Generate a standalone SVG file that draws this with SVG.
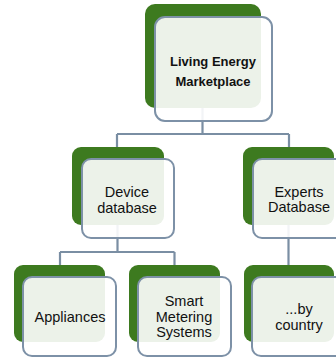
<svg xmlns="http://www.w3.org/2000/svg" width="336" height="358" viewBox="0 0 336 358">
<style>
.bg{fill:#3D7A1F}
.fg{fill:#ffffff;fill-opacity:0.9;stroke:#7D91A7;stroke-width:2}
.conn{fill:none;stroke:#7A8EA3;stroke-width:2.2}
text{font-family:"Liberation Sans",Arial,sans-serif;font-size:14.5px;fill:#111;text-anchor:middle}
.b{font-weight:bold;font-size:13px}
</style>
<rect width="336" height="358" fill="#ffffff"/>
<g id="connectors">
<path class="conn" d="M202.5,108 V134 M117,134 H289 M117,134 V147 M289,134 V147"/>
<path class="conn" d="M117.5,225 V252 M60,252 H174.5 M60,252 V265 M174.5,252 V265"/>
<path class="conn" d="M288.5,225 V265"/>
</g>
<g id="n-marketplace">
<rect class="bg" x="145" y="4" width="116" height="104" rx="10"/>
<rect class="fg" x="155" y="17" width="117" height="104" rx="10"/>
<text class="b" x="213" y="66">Living Energy</text>
<text class="b" x="213" y="86">Marketplace</text>
</g>
<g id="n-device">
<rect class="bg" x="72" y="147" width="92" height="78" rx="9"/>
<rect class="fg" x="82" y="159" width="92" height="79" rx="9"/>
<text x="127" y="197">Device</text>
<text x="127" y="213">database</text>
</g>
<g id="n-experts">
<rect class="bg" x="243" y="147" width="91" height="78" rx="9"/>
<rect class="fg" x="253" y="159" width="92" height="79" rx="9"/>
<text x="299" y="197">Experts</text>
<text x="299" y="212">Database</text>
</g>
<g id="n-appliances">
<rect class="bg" x="14" y="265" width="91" height="77" rx="9"/>
<rect class="fg" x="23" y="277" width="93" height="79" rx="9"/>
<text x="70" y="322">Appliances</text>
</g>
<g id="n-smart">
<rect class="bg" x="129" y="265" width="91" height="77" rx="9"/>
<rect class="fg" x="138" y="277" width="93" height="79" rx="9"/>
<text x="184" y="306">Smart</text>
<text x="184" y="322">Metering</text>
<text x="184" y="337">Systems</text>
</g>
<g id="n-country">
<rect class="bg" x="244" y="265" width="90" height="77" rx="9"/>
<rect class="fg" x="252" y="277" width="93" height="79" rx="9"/>
<text x="299" y="314">...by</text>
<text x="299" y="330">country</text>
</g>
</svg>
